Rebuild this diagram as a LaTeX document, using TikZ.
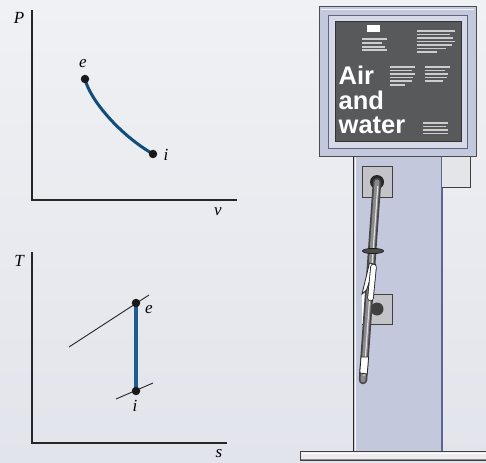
\documentclass[tikz,border=0pt]{standalone}
\usepackage{fontspec}
\setmainfont{Liberation Serif}
\newfontfamily\signfont{Liberation Sans}
\definecolor{procblue}{RGB}{16,78,122}
\definecolor{procblue2}{RGB}{28,92,145}
\definecolor{screenline}{RGB}{205,205,208}
\definecolor{lav}{RGB}{196,200,220}
\definecolor{lavlight}{RGB}{214,217,232}
\definecolor{lavedge}{RGB}{95,100,125}
\definecolor{postedge}{RGB}{90,104,145}
\definecolor{screen}{RGB}{88,89,91}
\definecolor{boxgray}{RGB}{196,196,200}
\definecolor{sidebox}{RGB}{228,229,233}
\definecolor{plate}{RGB}{236,236,238}
\definecolor{hosedark}{RGB}{70,70,72}
\definecolor{hosemid}{RGB}{138,138,140}
\definecolor{bgtop}{RGB}{240,241,244}
\definecolor{bgbot}{RGB}{226,228,235}
\begin{document}
\begin{tikzpicture}[x=1pt,y=-1pt,
  axis/.style={line width=1.1pt,draw=black!85},
  process/.style={line width=3pt,draw=procblue},
  guide/.style={line width=0.9pt,draw=black!85},
  dot/.style={circle,fill=black!90,inner sep=0pt,minimum size=8.5pt},
  lbl/.style={font=\fontsize{17}{17}\selectfont\itshape,inner sep=0pt},
  signtxt/.style={font=\fontsize{25.5}{25}\selectfont\signfont\bfseries,text=white,inner sep=0pt,anchor=base west},
  textline/.style={line width=1.3pt,draw=screenline},
  hosebox/.style={fill=boxgray,draw=black!75,line width=0.8pt},
]
% background
\useasboundingbox (0,0) rectangle (486,462);
\fill[top color=bgtop,bottom color=bgbot] (0,0) rectangle (486,462);

% ---------- P-v diagram ----------
\coordinate (pvO) at (32,200);
\coordinate (pvY) at (32,10);
\coordinate (pvX) at (237,200);
\draw[axis] (pvY) -- (pvO) -- (pvX);
\node[lbl] (pP) at (19,18) {P};
\node[lbl] (pv) at (218,212) {v};
\coordinate (e1) at (85,79);
\coordinate (i1) at (153,154);
\draw[process] (e1) .. controls (90,100) and (120,135) .. (i1);
\node[dot] (e1dot) at (e1) {};
\node[dot] (i1dot) at (i1) {};
\node[lbl] (e1lbl) at (83,64) {e};
\node[lbl] (i1lbl) at (166,155) {i};

% ---------- T-s diagram ----------
\coordinate (tsO) at (32,443);
\coordinate (tsY) at (32,252);
\coordinate (tsX) at (227,443);
\draw[axis] (tsY) -- (tsO) -- (tsX);
\node[lbl] (tT) at (19,261) {T};
\node[lbl] (ts) at (219,454) {s};
\coordinate (hiA) at (69,347);
\coordinate (hiB) at (149,295);
\coordinate (loA) at (116,399);
\coordinate (loB) at (153,383);
\draw[guide] (hiA) -- (hiB);
\draw[guide] (loA) -- (loB);
\coordinate (e2) at (136,303);
\coordinate (i2) at (136,391);
\draw[process,line width=3.4pt,draw=procblue2] (e2) -- (i2);
\node[dot] (e2dot) at (e2) {};
\node[dot] (i2dot) at (i2) {};
\node[lbl] (e2lbl) at (149,310) {e};
\node[lbl] (i2lbl) at (135,406) {i};

% ---------- air and water pump ----------
% base plate
\fill[fill=plate,draw=black!75,line width=0.9pt] (300,451) rectangle (490,460);
\draw[white,line width=0.8pt] (302,453.5) -- (490,453.5);
\draw[black!45,line width=0.8pt] (301,459) -- (490,459);

% post
\fill[lav] (353,157) rectangle (442,451);
\draw[black!85,line width=1pt] (353,157) -- (353,451);
\draw[white!90!lav,line width=1pt] (355,157) -- (355,451);
\draw[postedge,line width=1.6pt] (442,157) -- (442,451);

% small side box
\fill[sidebox] (442,157) rectangle (470,187);
\draw[black!75,line width=0.9pt] (470,157) -- (470,187) -- (442,187);

% sign frame
\fill[fill=lav,draw=black!70,line width=1pt] (319,7) rectangle (476,157);
\draw[white!80!lav,line width=1pt] (321,9.5) -- (474,9.5);
\fill[fill=lavlight,draw=lavedge,line width=0.9pt] (328,15) rectangle (467,148);
\fill[fill=screen,draw=black!80,line width=1pt] (335,22) rectangle (461,142);

% screen contents
\fill[white] (367,25) rectangle (380,32);
\foreach \y/\xe in {39/387,43/382,47/385,50/387}
  \draw[textline] (362,\y) -- (\xe,\y);
\foreach \y/\xe in {31/455,34.5/450,38/453,41.5/455,45/452,48.5/446,52/437}
  \draw[textline] (417,\y) -- (\xe,\y);
\foreach \y/\xe in {67/415,70.5/412,74/415,77.5/413,81/412,85/405}
  \draw[textline] (390,\y) -- (\xe,\y);
\foreach \y/\xe in {67/450,70.5/445,74/448,77.5/447,81/443}
  \draw[textline] (425,\y) -- (\xe,\y);
\foreach \y/\xe in {123/448,126.5/446,130/448,133.5/448}
  \draw[textline] (423,\y) -- (\xe,\y);
\node[signtxt] (air) at (338.5,85) {Air};
\node[signtxt] (and) at (338.5,109.5) {and};
\node[signtxt] (water) at (338.5,133.5) {water};

% hose holders
\draw[hosebox] (362,166) rectangle (392,197);
\draw[hosebox] (362,294) rectangle (392,324);
\fill[white] (362.4,294.4) rectangle (368,323.6);
\fill[black!75] (377,309) circle (6.5);

% hose
\coordinate (hoseTop) at (377,182);
\coordinate (hoseEnd) at (363,380);
\fill[black!85] (hoseTop) circle (7);
\draw[hosedark,line width=8.5pt,line cap=round] (hoseTop) -- (hoseEnd);
\draw[hosemid,line width=5pt,line cap=round] (hoseTop) -- (hoseEnd);
\draw[white!70!hosemid,line width=1.2pt] (377.8,186) -- (364,376);

% collar
\fill[fill=black!70,draw=black!90,line width=0.7pt] (373,251) ellipse (10.5 and 2.6);

% trigger lever
\fill[fill=white,draw=black!85,line width=0.8pt] (369.5,263) -- (375.5,264.5) -- (366.5,290) -- (362,294) -- cycle;
\draw[black!85,line width=6.5pt,line cap=round] (373.5,267) -- (370.5,298);
\draw[white,line width=4.8pt,line cap=round] (373.5,267) -- (370.5,298);

% nozzle tip
\fill[fill=white,draw=black!85,line width=0.8pt] (361,357) -- (368.6,357) -- (367.2,374) -- (359.8,373) -- cycle;
\end{tikzpicture}
\end{document}
